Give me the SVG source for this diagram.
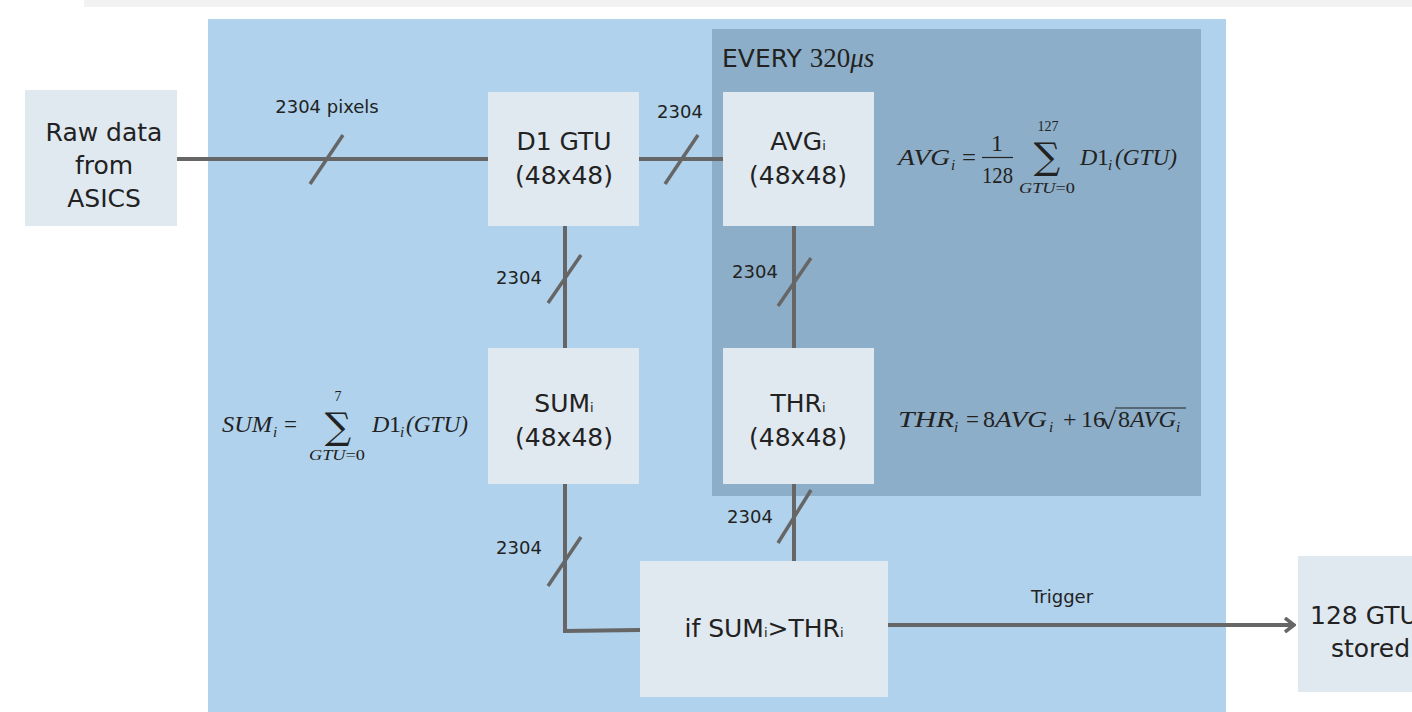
<svg xmlns="http://www.w3.org/2000/svg" width="1412" height="712" viewBox="0 0 1412 712">
<style>
.box{fill:#e0e8f0}
.bt{font-family:"DejaVu Sans",sans-serif;font-size:25px;fill:#222;text-anchor:middle}
.bl{font-family:"DejaVu Sans",sans-serif;font-size:25px;fill:#222}
.lb{font-family:"DejaVu Sans",sans-serif;font-size:18px;fill:#222;text-anchor:middle}
.ln{stroke:#666;stroke-width:4;fill:none}
.sl{stroke:#666;stroke-width:3.5;fill:none}
.m{font-family:"Liberation Serif",serif;font-style:italic;font-size:24px;fill:#222}
.mr{font-family:"Liberation Serif",serif;font-size:24px;fill:#222}
.sub{font-family:"Liberation Serif",serif;font-style:italic;font-size:15px;fill:#222}
.ms{font-family:"Liberation Serif",serif;font-size:14px;fill:#222}
.sig{font-family:"DejaVu Serif",serif;font-size:37px;fill:#222;text-anchor:middle}
</style>
<defs>
<marker id="ah" markerWidth="12" markerHeight="16" refX="10" refY="8" orient="auto" markerUnits="userSpaceOnUse">
<path d="M1,1 L10,8 L1,15" fill="none" stroke="#666" stroke-width="3.5"/>
</marker>
</defs>
<rect x="0" y="0" width="1412" height="712" fill="#fff"/>
<rect x="84" y="0" width="1328" height="7" fill="#f2f2f2"/>
<rect x="208" y="19" width="1018" height="693" fill="#b0d2ec"/>
<rect x="712" y="29" width="489" height="467" fill="#8daec8"/>
<text x="722" y="67" font-family="DejaVu Sans,sans-serif" font-size="25" fill="#222">EVERY <tspan font-family="Liberation Serif,serif" font-size="27">320</tspan><tspan font-family="Liberation Serif,serif" font-style="italic" font-size="27">μs</tspan></text>

<g id="connectors">
<line class="ln" x1="177" y1="159" x2="488" y2="159"/>
<line class="sl" x1="310" y1="184" x2="343" y2="135"/>
<text class="lb" x="327" y="113">2304 pixels</text>
<line class="ln" x1="639" y1="159" x2="723" y2="159"/>
<line class="sl" x1="665" y1="184" x2="698" y2="135"/>
<text class="lb" x="680" y="118">2304</text>
<line class="ln" x1="565" y1="226" x2="565" y2="348"/>
<line class="sl" x1="548" y1="303" x2="581" y2="255"/>
<text class="lb" x="519" y="284">2304</text>
<line class="ln" x1="794" y1="226" x2="794" y2="348"/>
<line class="sl" x1="778" y1="306" x2="811" y2="258"/>
<text class="lb" x="755" y="278">2304</text>
<line class="ln" x1="794" y1="484" x2="794" y2="561"/>
<line class="sl" x1="778" y1="543" x2="811" y2="490"/>
<text class="lb" x="750" y="523">2304</text>
<polyline class="ln" points="565,484 565,631 640,630"/>
<line class="sl" x1="548" y1="586" x2="581" y2="537"/>
<text class="lb" x="519" y="554">2304</text>
<line class="ln" x1="888" y1="625" x2="1294" y2="625" marker-end="url(#ah)"/>
<text class="lb" x="1062" y="603">Trigger</text>
</g>

<g id="raw"><rect class="box" x="25" y="90" width="152" height="136"/>
<text class="bt" x="104" y="141">Raw data</text><text class="bt" x="104" y="174">from</text><text class="bt" x="104" y="207">ASICS</text></g>
<g id="d1"><rect class="box" x="488" y="92" width="151" height="134"/>
<text class="bt" x="564" y="150">D1 GTU</text><text class="bt" x="564" y="184">(48x48)</text></g>
<g id="avg"><rect class="box" x="723" y="92" width="151" height="134"/>
<text class="bt" x="798" y="150">AVG<tspan font-size="13">i</tspan></text><text class="bt" x="798" y="184">(48x48)</text></g>
<g id="sum"><rect class="box" x="488" y="348" width="151" height="136"/>
<text class="bt" x="564" y="412">SUM<tspan font-size="13">i</tspan></text><text class="bt" x="564" y="446">(48x48)</text></g>
<g id="thr"><rect class="box" x="723" y="348" width="151" height="136"/>
<text class="bt" x="798" y="412">THR<tspan font-size="13">i</tspan></text><text class="bt" x="798" y="446">(48x48)</text></g>
<g id="if"><rect class="box" x="640" y="561" width="248" height="136"/>
<text class="bt" x="764" y="637">if SUM<tspan font-size="13">i</tspan>&gt;THR<tspan font-size="13">i</tspan></text></g>
<g id="stored"><rect class="box" x="1298" y="556" width="120" height="136"/>
<text class="bl" x="1310" y="624">128 GTU</text><text class="bl" x="1331" y="657">stored</text></g>

<g id="avgformula">
<text class="m" x="898" y="165" textLength="52" lengthAdjust="spacingAndGlyphs">AVG</text>
<text class="sub" x="951" y="170">i</text>
<text class="mr" x="962" y="165" textLength="14" lengthAdjust="spacingAndGlyphs">=</text>
<text class="mr" x="997" y="151" text-anchor="middle" font-size="21">1</text>
<line x1="982" y1="157.5" x2="1013" y2="157.5" stroke="#222" stroke-width="1.2"/>
<text class="mr" x="982" y="183" font-size="21" textLength="31" lengthAdjust="spacingAndGlyphs">128</text>
<text class="ms" x="1048" y="131" text-anchor="middle">127</text>
<text class="sig" x="1047" y="169">∑</text>
<text class="ms" x="1019" y="193" textLength="56" lengthAdjust="spacingAndGlyphs"><tspan font-style="italic">GTU</tspan>=0</text>
<text class="m" x="1080" y="165">D</text>
<text class="mr" x="1097" y="165">1</text>
<text class="sub" x="1108" y="170">i</text>
<text class="m" x="1115" y="165" textLength="62" lengthAdjust="spacingAndGlyphs">(GTU)</text>
</g>
<g id="sumformula">
<text class="m" x="222" y="432" textLength="50" lengthAdjust="spacingAndGlyphs">SUM</text>
<text class="sub" x="273" y="437">i</text>
<text class="mr" x="284" y="432" textLength="13" lengthAdjust="spacingAndGlyphs">=</text>
<text class="ms" x="338" y="401" text-anchor="middle">7</text>
<text class="sig" x="338" y="439">∑</text>
<text class="ms" x="309" y="460" textLength="56" lengthAdjust="spacingAndGlyphs"><tspan font-style="italic">GTU</tspan>=0</text>
<text class="m" x="372" y="432">D</text>
<text class="mr" x="389" y="432">1</text>
<text class="sub" x="400" y="437">i</text>
<text class="m" x="406" y="432" textLength="62" lengthAdjust="spacingAndGlyphs">(GTU)</text>
</g>
<g id="thrformula">
<text class="m" x="898" y="427" textLength="56" lengthAdjust="spacingAndGlyphs">THR</text>
<text class="sub" x="954" y="432">i</text>
<text class="mr" x="966" y="427" textLength="13" lengthAdjust="spacingAndGlyphs">=</text>
<text class="mr" x="983" y="427">8</text>
<text class="m" x="995" y="427" textLength="52" lengthAdjust="spacingAndGlyphs">AVG</text>
<text class="sub" x="1049" y="432">i</text>
<text class="mr" x="1063" y="427">+</text>
<text class="mr" x="1081" y="427">16</text>
<text class="mr" x="1100" y="429" font-size="26" textLength="16" lengthAdjust="spacingAndGlyphs">√</text>
<line x1="1115" y1="408" x2="1186" y2="408" stroke="#222" stroke-width="1.2"/>
<text class="mr" x="1118" y="427">8</text>
<text class="m" x="1130" y="427" textLength="46" lengthAdjust="spacingAndGlyphs">AVG</text>
<text class="sub" x="1176" y="432">i</text>
</g>
</svg>
